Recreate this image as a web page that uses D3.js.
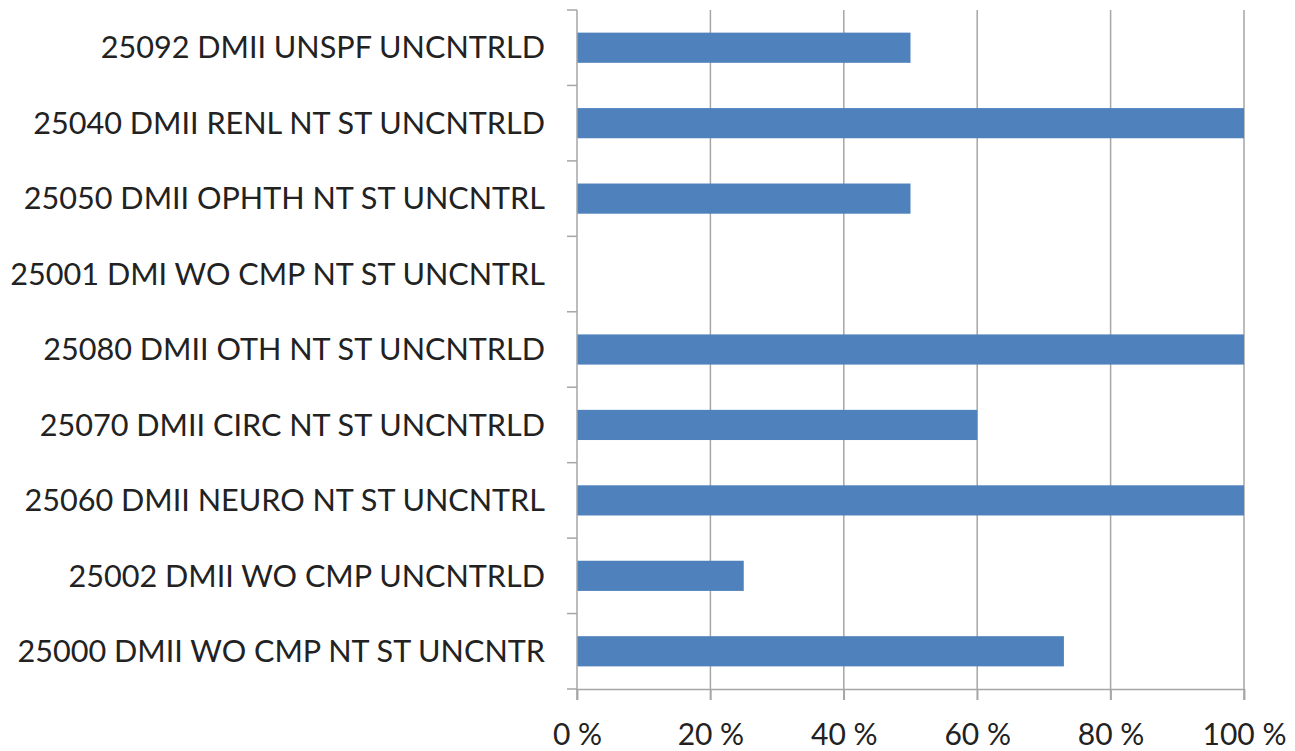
<!DOCTYPE html>
<html>
<head>
<meta charset="utf-8">
<script src="https://cdn.jsdelivr.net/npm/d3@7"></script>
<style>
  body { margin: 0; background: #fff; }
  svg text { font-family: Lato, "Open Sans", sans-serif; fill: #222; }
</style>
</head>
<body>
<svg id="chart" width="1295" height="751"></svg>
<script>
// Categories, top to bottom as shown
const categories = [
  "25092 DMII UNSPF UNCNTRLD",
  "25040 DMII RENL NT ST UNCNTRLD",
  "25050 DMII OPHTH NT ST UNCNTRL",
  "25001 DMI WO CMP NT ST UNCNTRL",
  "25080 DMII OTH NT ST UNCNTRLD",
  "25070 DMII CIRC NT ST UNCNTRLD",
  "25060 DMII NEURO NT ST UNCNTRL",
  "25002 DMII WO CMP UNCNTRLD",
  "25000 DMII WO CMP NT ST UNCNTR"
];
const values = [50, 100, 50, 0, 100, 60, 100, 25, 73];
const xTicks = [0, 20, 40, 60, 80, 100];

const margin = { top: 10, left: 577, right: 51, bottom: 62 };
const width = 1295 - margin.left - margin.right,
      height = 751 - margin.top - margin.bottom;

const svg = d3.select("#chart")
  .append("g")
  .attr("transform", "translate(" + margin.left + "," + margin.top + ")");

const x = d3.scaleLinear().domain([0, 100]).range([0, width]);
const y = d3.scaleBand().domain(categories).range([0, height]).paddingInner(0.6).paddingOuter(0.3);

// vertical gridlines
svg.selectAll(".grid")
  .data(xTicks.slice(1))
  .enter()
  .append("line")
  .attr("x1", d => x(d)).attr("x2", d => x(d))
  .attr("y1", 0).attr("y2", height + 11)
  .attr("stroke", "#a6a6a6")
  .attr("stroke-width", 1.5);

// bars
svg.selectAll(".bar")
  .data(values)
  .enter()
  .append("rect")
  .attr("x", 0)
  .attr("y", (d, i) => y(categories[i]))
  .attr("width", d => x(d))
  .attr("height", y.bandwidth())
  .attr("fill", "#4f81bd");

// x axis
const xAxis = svg.append("g")
  .attr("transform", "translate(0," + height + ")")
  .call(d3.axisBottom(x).tickValues(xTicks).tickSize(11).tickPadding(24).tickFormat(d => d + " %"));
xAxis.select(".domain").attr("stroke", "#a6a6a6").attr("stroke-width", 1.5);
xAxis.selectAll(".tick line").attr("stroke", "#a6a6a6").attr("stroke-width", 1.5);
xAxis.selectAll("text").attr("font-size", 30).attr("fill", "#222");

// y axis: ticks sit between categories
const step = height / categories.length;
const yAxis = svg.append("g");
yAxis.append("line")
  .attr("x1", 0).attr("x2", 0).attr("y1", 0).attr("y2", height + 11)
  .attr("stroke", "#a6a6a6").attr("stroke-width", 1.5);
yAxis.selectAll(".ytick")
  .data(d3.range(categories.length + 1))
  .enter()
  .append("line")
  .attr("x1", -10).attr("x2", 0)
  .attr("y1", d => d * step).attr("y2", d => d * step)
  .attr("stroke", "#a6a6a6").attr("stroke-width", 1.5);
yAxis.selectAll(".ylabel")
  .data(categories)
  .enter()
  .append("text")
  .attr("x", -32)
  .attr("y", d => y(d) + y.bandwidth() / 2)
  .attr("dy", "0.35em")
  .attr("text-anchor", "end")
  .attr("font-size", 30.6)
  .text(d => d);
</script>
</body>
</html>
